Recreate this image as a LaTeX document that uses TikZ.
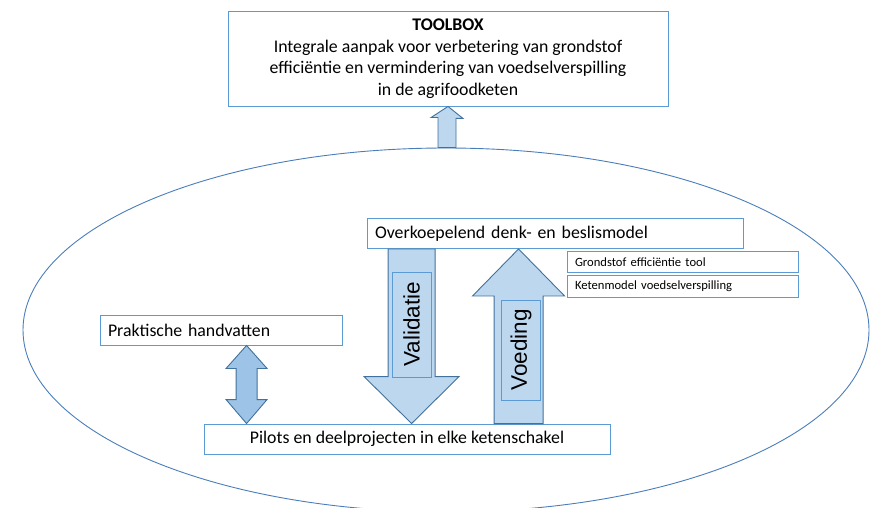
\documentclass[tikz,border=0pt]{standalone}
\usepackage{fontspec}
\setmainfont{Carlito}
\newfontfamily\arrowfont{Liberation Sans}
\usepackage{xcolor}
\usetikzlibrary{calc,shapes.geometric}
\definecolor{boxline}{RGB}{91,155,213}
\definecolor{arrline}{RGB}{65,113,156}
\definecolor{arrfill}{RGB}{189,215,238}
\definecolor{arrdark}{RGB}{157,195,230}
\definecolor{ovalline}{RGB}{74,126,187}
\tikzset{
  box/.style={draw=boxline, line width=0.9pt, fill=white, rectangle, inner xsep=8pt, inner ysep=0pt},
  blockarrow/.style={draw=arrline, line width=0.9pt, fill=arrfill, line join=miter},
  labelbox/.style={draw=boxline, line width=0.9pt, fill=arrfill, rectangle, rotate=90, inner sep=0pt, font=\arrowfont\fontsize{22.5}{26}\selectfont}
}

\begin{document}
\begin{tikzpicture}[x=1pt,y=1pt,yscale=-1,xscale=1]
    \useasboundingbox (0,0) rectangle (872,508);
    % the large oval
    \draw (446,330) node [draw=ovalline, line width=0.9pt, ellipse, minimum width=846, minimum height=364, inner sep=0pt] (field) {};
    % boxes
    \draw (448,58.5) node [box, minimum width=440, minimum height=95, align=center, font=\fontsize{17.8}{21.5}\selectfont] (toolbox) {\textbf{TOOLBOX}\\Integrale aanpak voor verbetering van grondstof\\efficiëntie en vermindering van voedselverspilling\\in de agrifoodketen};
    \draw (555,233.5) node [box, minimum height=30, text width=360, align=left, font=\fontsize{17.8}{20}\selectfont] (model) {Overkoepelend denk- en beslismodel};
    \draw (682.5,262) node [box, minimum height=21, text width=215, align=left, font=\fontsize{12.6}{14}\selectfont] (tool) {Grondstof efficiëntie tool};
    \draw (682.5,286.5) node [box, minimum height=22, text width=215, align=left, font=\fontsize{12.6}{14}\selectfont] (keten) {Ketenmodel voedselverspilling};
    \draw (221,330) node [box, minimum height=30, text width=226, align=left, font=\fontsize{17.8}{20}\selectfont] (praktisch) {Praktische handvatten};
    \draw (407,439) node [box, minimum height=30, minimum width=406, align=center, font=\fontsize{17.8}{20}\selectfont] (pilots) {Pilots en deelprojecten in elke ketenschakel};
    % arrow from oval to toolbox
    \draw [blockarrow] (toolbox.south) -- ++(15,12) -- ++(-7,0) |- ($(field.north)+(-8,0)$) -- ++(0,-30) -- ++(-7,0) -- cycle;
    % double arrow
    \coordinate (ptop) at ($(praktisch.south west)+(147,0)$);
    \coordinate (pbot) at (ptop |- pilots.north);
    \draw [blockarrow, fill=arrdark] (ptop) -- ++(20.5,23) -- ++(-10,0) -- ($(pbot)+(10.5,-24)$) -- ++(10,0) -- (pbot) -- ++(-20.5,-24) -- ++(10,0) -- ($(ptop)+(-10.5,23)$) -- ++(-10,0) -- cycle;
    % validatie arrow
    \coordinate (vtop) at ($(model.south west)+(45,0)$);
    \coordinate (vtip) at (vtop |- pilots.north);
    \draw [blockarrow] ($(vtop)+(-23.5,0)$) -- ($(vtip)+(-23.5,-47)$) -- ++(-24,0) -- (vtip) -- ++(47.5,-47) -- ++(-24,0) -- ($(vtop)+(23.5,0)$) -- cycle;
    \draw (vtop |- 0,324.5) node [labelbox, minimum width=105, minimum height=39] (validatie) {Validatie};
    % voeding arrow
    \coordinate (vdtip) at ($(model.south west)+(152,0)$);
    \coordinate (vdbot) at (vdtip |- pilots.north);
    \draw [blockarrow] (vdtip) -- ++(46,47) -- ++(-21.5,0) -- ($(vdbot)+(24.5,0)$) -- ++(-49,0) -- ($(vdtip)+(-24.5,47)$) -- ++(-21.5,0) -- cycle;
    \draw ($(vdtip |- 0,350)+(2.5,0)$) node [labelbox, minimum width=100, minimum height=39] (voeding) {Voeding};
  \end{tikzpicture}
\end{document}
